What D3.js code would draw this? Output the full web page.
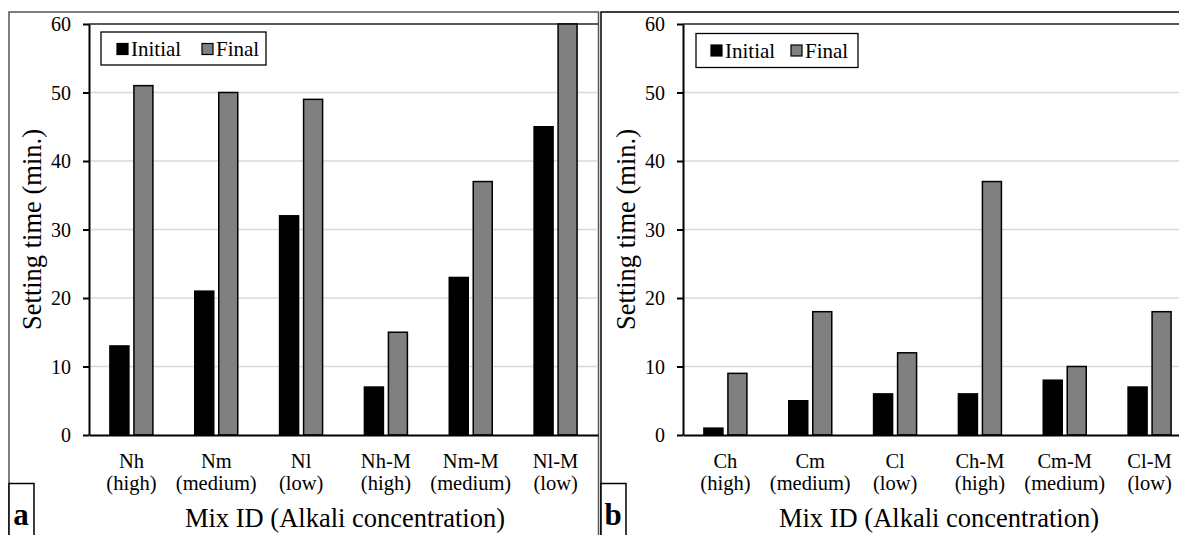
<!DOCTYPE html>
<html><head><meta charset="utf-8">
<script src="https://cdn.jsdelivr.net/npm/d3@7"></script>
<style>
body{margin:0;background:#fff;overflow:hidden;}
svg{display:block;}
</style>
</head><body><svg id="chart" width="1179" height="535"></svg>
<script>
// ---- data ----
const seriesNames = ["Initial", "Final"];
const yTicks = [0, 10, 20, 30, 40, 50, 60];
const catsA = ["Nh", "Nm", "Nl", "Nh-M", "Nm-M", "Nl-M"];
const levelsA = ["(high)", "(medium)", "(low)", "(high)", "(medium)", "(low)"];
const initialA = [13, 21, 32, 7, 23, 45];
const finalA = [51, 50, 49, 15, 37, 60];
const catsB = ["Ch", "Cm", "Cl", "Ch-M", "Cm-M", "Cl-M"];
const levelsB = ["(high)", "(medium)", "(low)", "(high)", "(medium)", "(low)"];
const initialB = [1, 5, 6, 6, 8, 7];
const finalB = [9, 18, 12, 37, 10, 18];
const yTitle = "Setting time (min.)";
const xTitle = "Mix ID (Alkali concentration)";

const colors = {Initial: "#000000", Final: "#808080"};
const FONT = "'Liberation Serif', 'Times New Roman', Times, serif";
const svg = d3.select("#chart");

function panel(cfg) {
  const g = svg.append("g").style("font-family", FONT);
  g.append("rect").attr("x", cfg.bx).attr("y", 12).attr("width", cfg.bw).attr("height", 560)
    .attr("fill", "none").attr("stroke", cfg.frameColor).attr("stroke-width", 1.5);

  const y = d3.scaleLinear().domain([0, 60]).range([435, 24]);
  const x = d3.scaleBand().domain(cfg.cats).range([cfg.x0, cfg.x0 + 509]).padding(0);
  const xs = d3.scaleBand().domain(seriesNames).range([-21.5, 21.5]).paddingInner(0.2083).paddingOuter(0);

  g.append("g").selectAll("line").data(yTicks.filter(t => t > 0)).join("line")
    .attr("x1", cfg.x0).attr("x2", cfg.x0 + 509)
    .attr("y1", d => y(d)).attr("y2", d => y(d))
    .attr("stroke", d => d === 60 ? "#222" : "#d9d9d9").attr("stroke-width", d => d === 60 ? 1.3 : 1.5);

  const rows = cfg.cats.map((c, i) => ({cat: c, Initial: cfg.initial[i], Final: cfg.final[i]}));
  const grp = g.append("g").selectAll("g").data(rows).join("g")
    .attr("transform", d => `translate(${x(d.cat) + x.bandwidth() / 2},0)`);
  grp.selectAll("rect").data(d => seriesNames.map(s => ({s, v: d[s]}))).join("rect")
    .attr("x", d => xs(d.s)).attr("width", xs.bandwidth())
    .attr("y", d => y(d.v)).attr("height", d => y(0) - y(d.v))
    .attr("fill", d => colors[d.s]).attr("stroke", "#000").attr("stroke-width", 1.5);

  const ya = d3.axisLeft(y).tickValues(yTicks).tickSize(6).tickPadding(12).tickSizeOuter(0);
  const yg = g.append("g").attr("transform", `translate(${cfg.x0},0)`).call(ya)
    .attr("font-family", null).attr("font-size", null);
  yg.select(".domain").attr("stroke", "#000").attr("stroke-width", 2);
  yg.selectAll(".tick line").attr("stroke", "#000").attr("stroke-width", 2);
  yg.selectAll(".tick text").attr("font-size", 20).attr("fill", "#000").attr("dy", "0.34em");

  const xa = d3.axisBottom(x).tickSize(0).tickSizeOuter(0).tickFormat("");
  const xg = g.append("g").attr("transform", `translate(0,${y(0)})`).call(xa)
    .attr("font-family", null);
  xg.select(".domain").attr("stroke", "#000").attr("stroke-width", 2);
  xg.selectAll(".tick text").remove();
  const lab = g.append("g").selectAll("text").data(cfg.cats).join("text")
    .attr("text-anchor", "middle").attr("font-size", 20.5).attr("fill", "#000")
    .attr("x", d => x(d) + x.bandwidth() / 2);
  lab.append("tspan").attr("x", d => x(d) + x.bandwidth() / 2).attr("y", 468).text(d => d);
  lab.append("tspan").attr("x", d => x(d) + x.bandwidth() / 2).attr("y", 490)
    .text((d, i) => cfg.levels[i]);

  g.append("text").attr("text-anchor", "middle").attr("font-size", 26.5)
    .attr("transform", `translate(${cfg.x0 - 57},229.5) rotate(-90)`).attr("dy", "0.35em").text(yTitle);
  g.append("text").attr("text-anchor", "middle").attr("font-size", 26.5)
    .attr("x", cfg.x0 + 256).attr("y", 527).text(xTitle);

  const L = cfg.legend;
  g.append("rect").attr("x", L.x).attr("y", L.y).attr("width", L.w).attr("height", L.h)
    .attr("fill", "#fff").attr("stroke", "#000").attr("stroke-width", 1.3);
  const items = [{s: "Initial", dx: L.d1}, {s: "Final", dx: L.d2}];
  items.forEach(it => {
    g.append("rect").attr("x", L.x + it.dx).attr("y", L.y + 11.5).attr("width", 11).attr("height", 11)
      .attr("fill", colors[it.s]).attr("stroke", "#000").attr("stroke-width", 1.2);
    g.append("text").attr("x", L.x + it.dx + 14).attr("y", L.y + 24).attr("font-size", 21).text(it.s);
  });

  g.append("rect").attr("x", cfg.bx).attr("y", 483.5).attr("width", 25).attr("height", 80)
    .attr("fill", "#fff").attr("stroke", "#000").attr("stroke-width", 1.5);
  g.append("text").attr("x", cfg.bx + 12).attr("y", 525).attr("text-anchor", "middle")
    .attr("font-size", 31).attr("font-weight", "bold").text(cfg.letter);
}

panel({bx: 9, bw: 589.5, frameColor: "#555", x0: 89, cats: catsA, levels: levelsA,
  initial: initialA, final: finalA, legend: {x: 101, y: 32, w: 165, h: 33, d1: 16, d2: 101}, letter: "a"});
panel({bx: 601, bw: 640, frameColor: "#000", x0: 683, cats: catsB, levels: levelsB,
  initial: initialB, final: finalB, legend: {x: 696, y: 33.5, w: 162, h: 34, d1: 15, d2: 95}, letter: "b"});

svg.selectAll("text").style("font-family", FONT).style("fill", "#000");
</script>
</body></html>
